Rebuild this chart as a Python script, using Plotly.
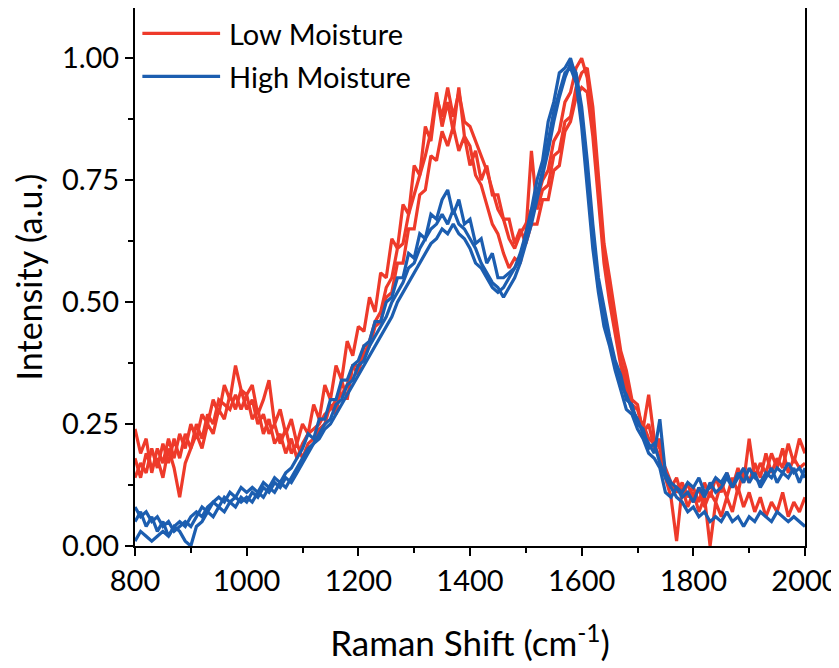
import plotly.graph_objects as go

# Raman shift grid (cm^-1)
shift = list(range(800, 2001, 10))

low_1 = [0.24,0.19,0.22,0.15,0.20,0.17,0.22,0.18,0.23,0.20,
         0.25,0.22,0.27,0.25,0.30,0.27,0.33,0.30,0.37,0.32,
         0.31,0.33,0.27,0.30,0.34,0.25,0.28,0.23,0.26,0.21,
         0.25,0.23,0.29,0.26,0.33,0.30,0.37,0.34,0.42,0.39,
         0.45,0.44,0.51,0.48,0.56,0.55,0.63,0.61,0.70,0.68,
         0.78,0.76,0.86,0.83,0.92,0.88,0.94,0.88,0.93,0.87,
         0.86,0.83,0.80,0.77,0.73,0.69,0.67,0.63,0.61,0.64,
         0.66,0.69,0.71,0.75,0.77,0.83,0.85,0.91,0.93,0.98,
         1.00,0.96,0.86,0.72,0.60,0.52,0.45,0.38,0.34,0.29,
         0.28,0.24,0.31,0.22,0.20,0.15,0.12,0.14,0.10,0.13,
         0.09,0.12,0.08,0.11,0.09,0.13,0.10,0.14,0.11,0.16,
         0.13,0.17,0.14,0.19,0.15,0.18,0.16,0.21,0.17,0.22,
         0.19]

low_2 = [0.18,0.14,0.19,0.16,0.18,0.14,0.20,0.16,0.10,0.17,
         0.20,0.23,0.20,0.25,0.23,0.28,0.26,0.31,0.28,0.32,
         0.28,0.30,0.25,0.27,0.23,0.25,0.21,0.24,0.19,0.21,
         0.18,0.21,0.22,0.24,0.25,0.29,0.27,0.34,0.30,0.37,
         0.37,0.39,0.42,0.46,0.48,0.53,0.55,0.61,0.62,0.68,
         0.72,0.76,0.80,0.85,0.93,0.86,0.91,0.85,0.94,0.84,
         0.82,0.76,0.74,0.70,0.66,0.64,0.60,0.57,0.59,0.58,
         0.64,0.81,0.69,0.73,0.74,0.80,0.81,0.87,0.88,0.94,
         0.97,0.98,0.90,0.76,0.62,0.55,0.47,0.40,0.36,0.30,
         0.29,0.23,0.25,0.20,0.22,0.14,0.10,0.01,0.12,0.08,
         0.11,0.07,0.10,0.00,0.09,0.06,0.10,0.07,0.12,0.08,
         0.11,0.07,0.10,0.06,0.09,0.07,0.11,0.06,0.09,0.07,
         0.10]

low_3 = [0.14,0.17,0.15,0.20,0.16,0.21,0.17,0.22,0.18,0.23,
         0.20,0.25,0.22,0.27,0.25,0.30,0.29,0.28,0.31,0.28,
         0.31,0.26,0.28,0.23,0.26,0.21,0.23,0.19,0.22,0.18,
         0.21,0.23,0.24,0.25,0.27,0.28,0.30,0.31,0.33,0.37,
         0.35,0.41,0.41,0.45,0.46,0.51,0.52,0.58,0.58,0.65,
         0.65,0.72,0.73,0.80,0.79,0.85,0.82,0.86,0.81,0.84,
         0.78,0.81,0.75,0.78,0.72,0.72,0.67,0.67,0.62,0.65,
         0.62,0.66,0.66,0.71,0.71,0.77,0.78,0.85,0.87,0.92,
         0.94,0.93,0.84,0.70,0.58,0.50,0.43,0.37,0.32,0.28,
         0.26,0.25,0.22,0.21,0.18,0.16,0.13,0.11,0.13,0.10,
         0.12,0.09,0.13,0.10,0.14,0.11,0.15,0.12,0.16,0.13,
         0.22,0.14,0.17,0.15,0.19,0.16,0.20,0.15,0.18,0.16,
         0.17]

high_1 = [0.08,0.06,0.07,0.05,0.06,0.04,0.05,0.03,0.04,0.05,
          0.04,0.06,0.08,0.07,0.09,0.10,0.09,0.11,0.10,0.12,
          0.11,0.12,0.11,0.13,0.12,0.14,0.13,0.15,0.16,0.18,
          0.20,0.23,0.22,0.26,0.26,0.30,0.30,0.34,0.34,0.37,
          0.38,0.41,0.42,0.46,0.46,0.50,0.51,0.55,0.55,0.60,
          0.59,0.64,0.63,0.68,0.67,0.71,0.73,0.68,0.71,0.66,
          0.67,0.62,0.63,0.58,0.60,0.55,0.55,0.56,0.57,0.59,
          0.64,0.69,0.75,0.79,0.87,0.91,0.97,0.98,1.00,0.96,
          0.88,0.76,0.63,0.53,0.47,0.42,0.37,0.33,0.31,0.28,
          0.26,0.23,0.21,0.19,0.26,0.15,0.13,0.12,0.10,0.11,
          0.09,0.12,0.10,0.13,0.11,0.12,0.14,0.12,0.15,0.13,
          0.16,0.14,0.13,0.15,0.14,0.16,0.15,0.17,0.15,0.16,
          0.14]

high_2 = [0.05,0.07,0.04,0.06,0.03,0.05,0.02,0.04,0.03,0.01,
          0.00,0.04,0.05,0.07,0.06,0.08,0.07,0.09,0.10,0.09,
          0.10,0.09,0.11,0.10,0.12,0.11,0.13,0.12,0.14,0.16,
          0.18,0.20,0.21,0.23,0.25,0.26,0.29,0.30,0.33,0.34,
          0.37,0.38,0.41,0.43,0.45,0.47,0.50,0.52,0.54,0.57,
          0.58,0.61,0.63,0.65,0.66,0.68,0.66,0.69,0.66,0.65,
          0.63,0.61,0.58,0.56,0.54,0.53,0.51,0.53,0.55,0.58,
          0.62,0.66,0.71,0.76,0.81,0.87,0.92,0.96,0.99,0.97,
          0.90,0.79,0.66,0.55,0.49,0.43,0.38,0.35,0.30,0.29,
          0.25,0.24,0.20,0.21,0.17,0.14,0.12,0.10,0.09,0.07,
          0.08,0.06,0.07,0.05,0.06,0.05,0.07,0.05,0.06,0.04,
          0.06,0.05,0.07,0.06,0.05,0.07,0.06,0.05,0.06,0.05,
          0.04]

high_3 = [0.01,0.03,0.02,0.01,0.02,0.03,0.02,0.04,0.05,0.04,
          0.06,0.07,0.06,0.08,0.09,0.08,0.10,0.09,0.08,0.10,
          0.09,0.11,0.10,0.12,0.11,0.13,0.12,0.14,0.13,0.15,
          0.17,0.19,0.21,0.22,0.24,0.25,0.27,0.29,0.31,0.33,
          0.35,0.37,0.39,0.41,0.43,0.45,0.47,0.50,0.52,0.54,
          0.56,0.58,0.60,0.62,0.63,0.65,0.64,0.66,0.64,0.63,
          0.61,0.58,0.57,0.55,0.53,0.52,0.53,0.55,0.57,0.60,
          0.64,0.68,0.72,0.77,0.83,0.89,0.93,0.97,0.98,0.95,
          0.86,0.74,0.61,0.52,0.45,0.41,0.36,0.32,0.28,0.27,
          0.24,0.22,0.19,0.18,0.16,0.11,0.10,0.12,0.11,0.13,
          0.12,0.14,0.11,0.12,0.14,0.13,0.15,0.12,0.14,0.16,
          0.13,0.15,0.12,0.14,0.16,0.13,0.15,0.14,0.16,0.13,
          0.16]

x_ticks = [800, 1000, 1200, 1400, 1600, 1800, 2000]
y_ticks = [0.0, 0.25, 0.5, 0.75, 1.0]

RED = "rgb(238,58,42)"
BLUE = "rgb(28,94,176)"
FONT = "Lato"
LW = 3.2

fig = go.Figure()
for ys in (low_1, low_2, low_3):
    fig.add_trace(go.Scatter(x=shift, y=ys, mode="lines",
                             line=dict(color=RED, width=LW),
                             showlegend=False, hoverinfo="skip"))
for ys in (high_1, high_2, high_3):
    fig.add_trace(go.Scatter(x=shift, y=ys, mode="lines",
                             line=dict(color=BLUE, width=LW),
                             showlegend=False, hoverinfo="skip"))

axis_common = dict(showline=True, linecolor="black", linewidth=2, mirror=True,
                   ticks="outside", ticklen=8, tickwidth=2, tickcolor="black",
                   showgrid=False, zeroline=False, automargin=False,
                   tickfont=dict(family=FONT, size=29, color="black"))

fig.update_xaxes(range=[800, 2000], tickvals=x_ticks,
                 ticktext=[str(v) for v in x_ticks],
                 minor=dict(ticks="outside", ticklen=5, tickwidth=2,
                            tickcolor="black", dtick=100, tick0=800),
                 title=dict(text="Raman Shift (cm<sup>-1</sup>)",
                            font=dict(family=FONT, size=35, color="black"),
                            standoff=36),
                 **axis_common)
fig.update_yaxes(range=[0, 1.103], tickvals=y_ticks,
                 ticktext=[f"{v:.2f}" for v in y_ticks],
                 minor=dict(ticks="outside", ticklen=5, tickwidth=2,
                            tickcolor="black", dtick=0.125, tick0=0),
                 title=dict(text="Intensity (a.u.)",
                            font=dict(family=FONT, size=34, color="black"),
                            standoff=14),
                 **axis_common)

# legend drawn inside the plot, top-left
legend_items = [("Low Moisture", RED, 0.953), ("High Moisture", BLUE, 0.873)]
for label, color, yp in legend_items:
    fig.add_shape(type="line", xref="paper", yref="paper",
                  x0=0.011, x1=0.127, y0=yp, y1=yp,
                  line=dict(color=color, width=LW))
    fig.add_annotation(xref="paper", yref="paper", x=0.138, y=yp,
                       xanchor="left", yanchor="middle", showarrow=False,
                       text=label, font=dict(family=FONT, size=29, color="black"))

# page body has an 8px margin, so the figure is 8px smaller than the window
fig.update_layout(width=831, height=660,
                  margin=dict(l=127, r=34, t=0, b=122),
                  plot_bgcolor="white", paper_bgcolor="white",
                  showlegend=False)

fig.write_html("out.html")
